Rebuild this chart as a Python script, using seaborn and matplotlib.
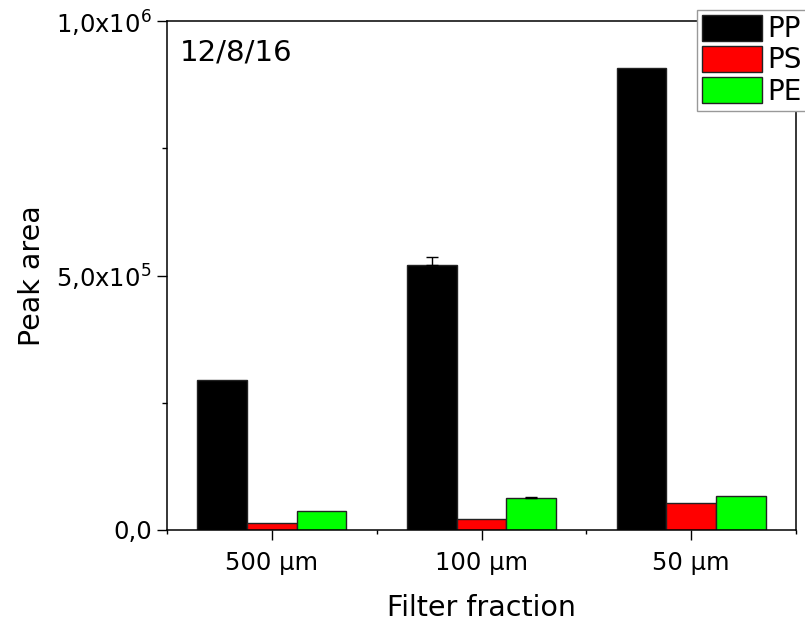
import numpy as np
import pandas as pd
import matplotlib
matplotlib.use("Agg")
import matplotlib.pyplot as plt
import seaborn as sns
from matplotlib.ticker import FixedLocator, MultipleLocator

# ---- data ----
categories = ["500 µm", "100 µm", "50 µm"]
polymers = ["PP", "PS", "PE"]
pp_values = [295000, 520000, 907000]
ps_values = [13000, 21000, 53500]
pe_values = [37000, 62000, 67000]
pp_errors = [0, 16000, 0]
ps_errors = [0, 0, 0]
pe_errors = [0, 2000, 0]
colors = ["#000000", "#FF0000", "#00FF00"]
ytick_values = [0, 5e5, 1e6]
ytick_labels = ["0,0", "5,0x10$^5$", "1,0x10$^6$"]
annotation = "12/8/16"

plt.rcParams["font.family"] = ["DejaVu Sans"]
plt.rcParams["mathtext.fontset"] = "dejavusans"

df = pd.DataFrame({
    "fraction": categories * 3,
    "polymer": [p for p in polymers for _ in categories],
    "area": pp_values + ps_values + pe_values,
})

W, H = 805, 623
fig = plt.figure(figsize=(W / 100, H / 100), dpi=100)
ax = fig.add_axes([167 / W, 1 - 530 / H, (796 - 167) / W, (530 - 21) / H])

sns.barplot(data=df, x="fraction", y="area", hue="polymer", order=categories,
            hue_order=polymers, palette=colors, saturation=1, width=0.71,
            errorbar=None, edgecolor="#222222", linewidth=1, ax=ax)

for container, errs in zip(ax.containers, [pp_errors, ps_errors, pe_errors]):
    for bar, e in zip(container, errs):
        if e > 0:
            xc = bar.get_x() + bar.get_width() / 2
            ax.errorbar([xc], [bar.get_height()], yerr=[[0], [e]], fmt="none",
                        ecolor="black", elinewidth=1, capsize=4, capthick=1)

ax.set_xlim(-0.5, 2.5)
ax.set_ylim(0, 1e6)
ax.set_yticks(ytick_values)
ax.set_yticklabels(ytick_labels)
ax.yaxis.set_minor_locator(MultipleLocator(2.5e5))
ax.xaxis.set_minor_locator(FixedLocator([-0.5, 0.5, 1.5, 2.5]))

ax.tick_params(axis="both", which="major", direction="out", length=7, width=1,
               labelsize=17.5)
ax.tick_params(axis="x", which="major", pad=8)
ax.tick_params(axis="y", which="major", pad=4)
ax.tick_params(axis="y", which="minor", direction="out", length=3.6, width=1)
ax.tick_params(axis="x", which="minor", direction="out", length=3, width=1)
for s in ax.spines.values():
    s.set_linewidth(1.1)
    s.set_visible(True)

ax.set_xlabel("Filter fraction", fontsize=20.5, labelpad=14)
ax.set_ylabel("Peak area", fontsize=20.5, labelpad=7)

ax.text(0.02, 0.965, annotation, transform=ax.transAxes, fontsize=21,
        ha="left", va="top")

handles, labels = ax.get_legend_handles_labels()
if ax.get_legend() is not None:
    ax.get_legend().remove()
leg = ax.legend(handles, labels, loc="upper left",
                bbox_to_anchor=(697 / W, 1 - 10 / H), bbox_transform=fig.transFigure,
                fontsize=20, frameon=True, fancybox=False, edgecolor="#999999",
                framealpha=1, handlelength=2.15, handleheight=1.05,
                handletextpad=0.2, labelspacing=0.1, borderpad=0.18,
                borderaxespad=0)
leg.get_frame().set_linewidth(1)

fig.savefig("out.png", dpi=100)
